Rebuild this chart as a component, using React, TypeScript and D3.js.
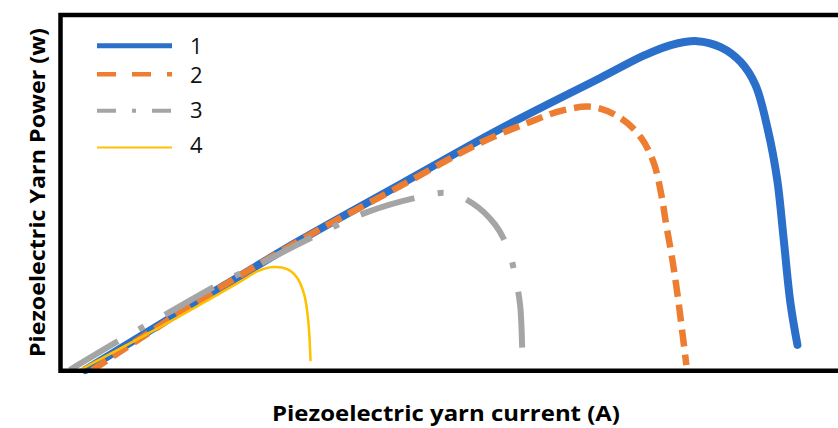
import React, { useEffect, useRef } from "react";
import * as d3 from "d3";

// Power vs. current for four piezoelectric yarn samples (arbitrary units)
const seriesNames = ["1", "2", "3", "4"];

const current1 = [0.3, 1.78, 3.07, 4.36, 5.64, 6.93, 7.51, 7.84, 8.18, 8.48, 8.74, 8.93, 9.09, 9.21, 9.29, 9.38, 9.47];
const power1 = [0, 1.98, 3.67, 5.25, 6.81, 8.25, 8.9, 9.18, 9.29, 9.12, 8.7, 8.05, 6.78, 5.37, 3.76, 1.89, 0.71];

const current2 = [0.39, 1.78, 3.07, 4.36, 5.39, 6.03, 6.46, 6.84, 7.19, 7.45, 7.62, 7.73, 7.77, 7.86, 7.93, 8.04];
const power2 = [0, 1.98, 3.67, 5.2, 6.42, 7.01, 7.34, 7.43, 7.12, 6.58, 5.85, 4.8, 4.24, 3.11, 2.06, 0.14];

const current3 = [0.1, 0.75, 1.39, 2.0, 2.59, 3.23, 3.93, 4.61, 4.96, 5.28, 5.58, 5.75, 5.84, 5.9, 5.93];
const power3 = [0, 0.85, 1.64, 2.4, 3.05, 3.76, 4.46, 4.89, 5.0, 4.72, 4.1, 3.39, 2.6, 1.81, 0.14];

const current4 = [0.23, 1.26, 2.29, 2.53, 2.72, 2.9, 3.03, 3.12, 3.17, 3.2];
const power4 = [0, 1.21, 2.49, 2.8, 2.91, 2.85, 2.6, 2.12, 1.41, 0.28];

const xTitle = "Piezoelectric yarn current (A)";
const yTitle = "Piezoelectric Yarn Power (w)";

const W = 838;
const H = 428;

const styles = [
  { color: "#2a6fc9", width: 8, dash: null, legendWidth: 5, legendDash: null },
  { color: "#ed7d31", width: 6.5, dash: "17 8", legendWidth: 4.5, legendDash: "19 16" },
  { color: "#a5a5a5", width: 6, dash: "56 24 6 24", legendWidth: 4, legendDash: "19 16 4 16" },
  { color: "#ffc000", width: 2.5, dash: null, legendWidth: 2, legendDash: null },
];

const legendLineY = [45.7, 74.3, 110.7, 147.5];
const legendTextY = [53.5, 82.8, 118.2, 153.3];

export default function App() {
  const ref = useRef<SVGSVGElement | null>(null);

  useEffect(() => {
    const svg = d3.select(ref.current);
    svg.selectAll("*").remove();

    const left = 60.5;
    const top = 15;
    const bottom = 370.8;

    const x = d3.scaleLinear().domain([0, 10]).range([62, 838.6]);
    const y = d3.scaleLinear().domain([0, 10]).range([370, 16]);

    svg.append("rect").attr("width", W).attr("height", H).attr("fill", "#fff");

    const series = [
      { xs: current1, ys: power1 },
      { xs: current2, ys: power2 },
      { xs: current3, ys: power3 },
      { xs: current4, ys: power4 },
    ];

    const line = d3
      .line<[number, number]>()
      .x((d) => x(d[0]))
      .y((d) => y(d[1]))
      .curve(d3.curveCatmullRom.alpha(0.5));

    series.forEach((s, i) => {
      const pts: [number, number][] = s.xs.map((v, j) => [v, s.ys[j]]);
      const st = styles[i];
      svg
        .append("path")
        .attr("d", line(pts) as string)
        .attr("fill", "none")
        .attr("stroke", st.color)
        .attr("stroke-width", st.width)
        .attr("stroke-linejoin", "round")
        .attr("stroke-linecap", st.dash ? "butt" : "round")
        .attr("stroke-dasharray", st.dash ?? null);
    });

    // plot frame (runs past the right edge)
    svg
      .append("path")
      .attr("d", `M${W + 10},${top}H${left}V${bottom}H${W + 10}`)
      .attr("fill", "none")
      .attr("stroke", "#000")
      .attr("stroke-width", 4.5);

    // legend
    const lg = svg.append("g");
    seriesNames.forEach((name, i) => {
      const st = styles[i];
      lg.append("line")
        .attr("x1", 97)
        .attr("x2", 172)
        .attr("y1", legendLineY[i])
        .attr("y2", legendLineY[i])
        .attr("stroke", st.color)
        .attr("stroke-width", st.legendWidth)
        .attr("stroke-dasharray", st.legendDash ?? null);
      lg.append("text")
        .attr("x", 190)
        .attr("y", legendTextY[i])
        .attr("font-family", "'Open Sans', sans-serif")
        .attr("font-size", 22)
        .attr("fill", "#111")
        .text(name);
    });

    // axis titles
    svg
      .append("text")
      .attr("x", 272)
      .attr("y", 421)
      .attr("font-family", "'Open Sans', sans-serif")
      .attr("font-weight", 700)
      .attr("font-size", 22)
      .attr("textLength", 348)
      .attr("lengthAdjust", "spacingAndGlyphs")
      .attr("fill", "#000")
      .text(xTitle);

    svg
      .append("text")
      .attr("transform", "translate(45,357) rotate(-90)")
      .attr("font-family", "'Open Sans', sans-serif")
      .attr("font-weight", 700)
      .attr("font-size", 22)
      .attr("textLength", 329)
      .attr("lengthAdjust", "spacingAndGlyphs")
      .attr("fill", "#000")
      .text(yTitle);
  }, []);

  return (
    <svg
      ref={ref}
      width={W}
      height={H}
      style={{ position: "absolute", left: 0, top: 0, display: "block" }}
    />
  );
}
